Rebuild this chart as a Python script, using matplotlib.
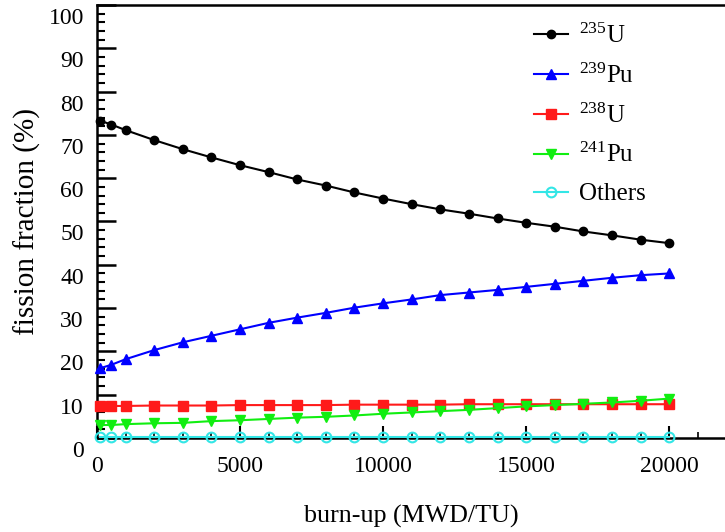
import matplotlib
matplotlib.use("Agg")
import matplotlib.pyplot as plt
import matplotlib.transforms as mtransforms
from matplotlib.ticker import MultipleLocator

## --data
burnup = [100, 500, 1000, 2000, 3000, 4000, 5000, 6000, 7000, 8000, 9000,
          10000, 11000, 12000, 13000, 14000, 15000, 16000, 17000, 18000, 19000, 20000]
u235 = [73.3, 72.4, 71.1, 68.8, 66.7, 64.8, 63.0, 61.4, 59.7, 58.3, 56.7,
        55.3, 54.0, 52.8, 51.8, 50.7, 49.7, 48.8, 47.7, 46.8, 45.8, 45.0]
pu239 = [16.1, 16.9, 18.2, 20.3, 22.1, 23.6, 25.1, 26.6, 27.8, 28.9, 30.1,
         31.1, 32.0, 33.0, 33.6, 34.2, 34.9, 35.6, 36.3, 37.0, 37.6, 38.0]
u238 = [7.4, 7.4, 7.4, 7.5, 7.5, 7.5, 7.6, 7.6, 7.6, 7.6, 7.7,
        7.7, 7.7, 7.7, 7.8, 7.8, 7.8, 7.8, 7.8, 7.8, 7.8, 7.8]
pu241 = [3.0, 3.0, 3.2, 3.4, 3.5, 3.9, 4.1, 4.4, 4.7, 4.9, 5.2,
         5.6, 5.9, 6.2, 6.5, 6.9, 7.3, 7.6, 7.9, 8.2, 8.6, 9.1]
others = [0.2] * len(burnup)

labels = ["$^{235}$U", "$^{239}$Pu", "$^{238}$U", "$^{241}$Pu", "Others"]

## --style
plt.rcParams["font.family"] = ["Liberation Serif", "DejaVu Serif"]
plt.rcParams["mathtext.fontset"] = "custom"
plt.rcParams["mathtext.rm"] = "Liberation Serif"
plt.rcParams["mathtext.it"] = "Liberation Serif:italic"
plt.rcParams["font.size"] = 17

fig = plt.figure(figsize=(7.25, 5.32), dpi=100)
ax = fig.add_axes([0.1338, 0.1767, 0.8662, 0.8139])

kw = dict(lw=1.5, zorder=3, clip_on=False)
ax.plot(burnup, u235, color="black", marker="o", ms=6, label=labels[0], **kw)
ax.plot(burnup, pu239, color="#0000ff", marker="^", ms=7, label=labels[1], **kw)
ax.plot(burnup, u238, color="#ff1a1a", marker="s", ms=6.5, label=labels[2], **kw)
ax.plot(burnup, pu241, color="#11ee11", marker="v", ms=7, label=labels[3], **kw)
ax.plot(burnup, others, color="#33e6e6", marker="o", ms=7, mfc="none",
        mew=1.5, label=labels[4], **kw)

ax.set_xlim(0, 21950)
ax.set_ylim(0, 100)
ax.xaxis.set_major_locator(MultipleLocator(5000))
ax.xaxis.set_minor_locator(MultipleLocator(1000))
ax.yaxis.set_major_locator(MultipleLocator(10))
ax.yaxis.set_minor_locator(MultipleLocator(2))

ax.spines["right"].set_visible(False)
for s in ["left", "top", "bottom"]:
    ax.spines[s].set_linewidth(1.8)

ax.tick_params(axis="y", which="major", direction="in", length=14, width=1.8, pad=9.5)
ax.tick_params(axis="y", which="minor", direction="in", length=6, width=1.5)
ax.tick_params(axis="x", which="major", direction="in", length=9, width=1.5, pad=13)
ax.tick_params(axis="x", which="minor", direction="in", length=4, width=1.2)
ax.tick_params(right=False, top=False, which="both")
for t in ax.xaxis.get_minor_ticks():
    t.tick1line.set_zorder(4)

## --y tick labels sit lower than their ticks in the original
offset = mtransforms.ScaledTranslation(0, -11 / 100, fig.dpi_scale_trans)
for t in ax.yaxis.get_major_ticks():
    t.label1.set_transform(t.label1.get_transform() + offset)

ax.set_xlabel("burn-up (MWD/TU)", fontsize=18.7, labelpad=20)
ax.set_ylabel("fission fraction (%)", fontsize=21, labelpad=5)

ax.legend(loc="upper left", bbox_to_anchor=(0.696, 0.957), frameon=False,
          fontsize=18, borderpad=0, borderaxespad=0,
          handlelength=1.36, labelspacing=0.62, handletextpad=0.44)

fig.savefig("out.png", dpi=100)
